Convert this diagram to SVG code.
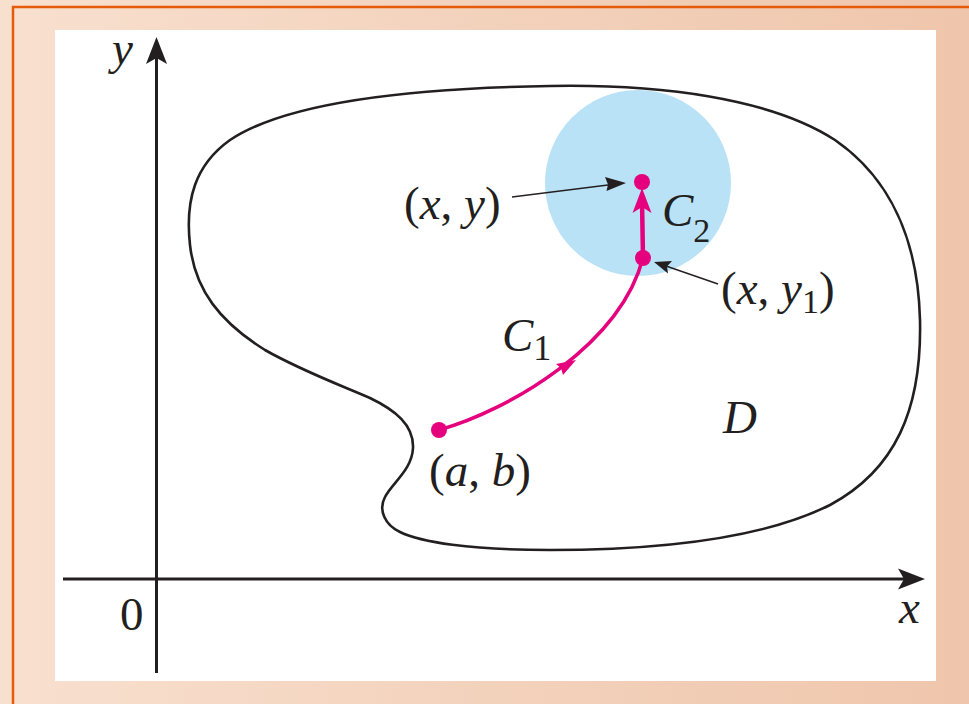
<svg xmlns="http://www.w3.org/2000/svg" width="969" height="704" viewBox="0 0 969 704">
  <defs>
    <linearGradient id="bg" x1="0" y1="0" x2="1" y2="0">
      <stop offset="0" stop-color="#F8E0CF"/>
      <stop offset="0.5" stop-color="#F3D2BC"/>
      <stop offset="1" stop-color="#EFC6AC"/>
    </linearGradient>
    <style>
      .ax { stroke:#231F20; stroke-width:3; fill:none; }
      .axh { fill:#231F20; stroke:none; }
      .bd { stroke:#231F20; stroke-width:2.6; fill:none; }
      .pk { stroke:#E5007D; fill:none; }
      .pkf { fill:#E5007D; stroke:none; }
      .ld { stroke:#231F20; stroke-width:1.5; fill:none; }
      .t { font-family:"Liberation Serif","Times New Roman",serif; font-size:47px; fill:#231F20; }
      .i { font-style:italic; }
    </style>
  </defs>

  <g id="background">
    <rect x="0" y="0" width="969" height="704" fill="url(#bg)"/>
    <rect x="13" y="7" width="980" height="720" fill="none" stroke="#E55B0A" stroke-width="2.5"/>
    <rect x="55" y="30" width="881" height="651" fill="#FFFFFF"/>
  </g>

  <g id="disk">
    <circle cx="638" cy="183" r="93" fill="#B9E2F6"/>
  </g>

  <g id="region-D">
    <path class="bd" d="M550,86 C660,84 770,98 835,140 C890,178 918,240 920,320 C922,410 895,470 830,505 C760,540 650,550 550,550 C470,550 420,542 400,532 C385,525 378,510 385,497 C392,483 412,470 413,448 C414,425 395,410 370,398 C340,385 300,370 265,350 C220,322 195,290 190,245 C185,200 195,165 230,140 C290,100 420,88 550,86 Z"/>
  </g>

  <g id="axes">
    <line class="ax" x1="156.5" y1="673" x2="156.5" y2="55"/>
    <path class="axh" d="M156.5,37 L167,64 L156.5,58 L146,64 Z"/>
    <line class="ax" x1="63" y1="579" x2="908" y2="579"/>
    <path class="axh" d="M925,579 L898,568.5 L904,579 L898,589.5 Z"/>
  </g>

  <g id="connectors">
    <path id="C1" class="pk" stroke-width="3.5" d="M439,430 C510,410 620,345 643,258"/>
    <path class="pkf" d="M576,360 L556,364 L561,368 L563,375 Z"/>
    <line id="C2" class="pk" stroke-width="4.5" x1="643" y1="258" x2="642" y2="200"/>
    <path class="pkf" d="M642,188 L651.5,213 L642,207 L632.5,213 Z"/>
    <line class="ld" x1="512" y1="197" x2="612" y2="184.5"/>
    <path class="axh" d="M626,183 L605,177 L608,184.5 L606.5,191 Z"/>
    <line class="ld" x1="718" y1="284" x2="666" y2="266"/>
    <path class="axh" d="M654,262 L672,261 L667,266.5 L668,273.5 Z"/>
  </g>

  <g id="point-ab">
    <circle class="pkf" cx="439" cy="430" r="8"/>
    <text class="t" x="429" y="486">(<tspan class="i">a</tspan>, <tspan class="i">b</tspan>)</text>
  </g>
  <g id="point-xy">
    <circle class="pkf" cx="642" cy="182" r="8"/>
    <text class="t" x="404" y="219">(<tspan class="i">x</tspan>, <tspan class="i">y</tspan>)</text>
  </g>
  <g id="point-xy1">
    <circle class="pkf" cx="643" cy="258" r="8"/>
    <text class="t" x="721" y="304">(<tspan class="i">x</tspan>, <tspan class="i">y</tspan><tspan font-size="34" dy="9">1</tspan><tspan dy="-9">)</tspan></text>
  </g>

  <g id="labels">
    <text class="t i" x="662" y="226" font-size="52">C<tspan font-size="34" font-style="normal" dy="16">2</tspan></text>
    <text class="t i" x="502" y="351" font-size="54">C<tspan font-size="36" font-style="normal" dy="9">1</tspan></text>
    <text class="t i" x="723" y="433" font-size="54">D</text>
    <text class="t i" x="112" y="64">y</text>
    <text class="t i" x="899" y="623">x</text>
    <text class="t" x="120" y="630">0</text>
  </g>
</svg>
